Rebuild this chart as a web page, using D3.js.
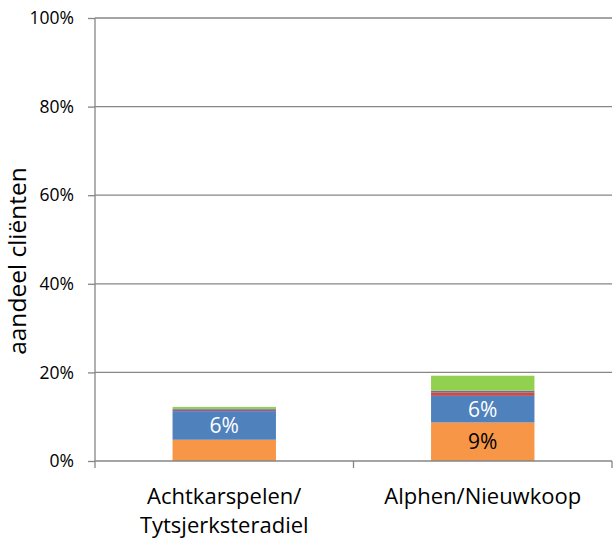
<!DOCTYPE html>
<html><head><meta charset="utf-8">
<script src="https://cdn.jsdelivr.net/npm/d3@7"></script>
<style>body{margin:0;background:#fff}svg{display:block}text{font-family:"Open Sans",sans-serif}</style>
</head><body><svg id="c" width="613" height="539"></svg>
<script>
const categories = [["Achtkarspelen/", "Tytsjerksteradiel"], ["Alphen/Nieuwkoop"]];
const seriesNames = ["oranje", "blauw", "rood", "paars", "groen"];
const oranje = [4.8, 8.7];
const blauw = [6.3, 6.0];
const rood = [0, 0.8];
const paars = [0.6, 0.35];
const groen = [0.5, 3.4];
const labels = [[null, "9%"], ["6%", "6%"], [null, null], [null, null], [null, null]];
const yTicks = [0, 20, 40, 60, 80, 100];
const colors = ["#F79646", "#4F81BD", "#C0504D", "#8064A2", "#92D050"];
const labelColors = ["#000", "#fff"];

const seriesVals = [oranje, blauw, rood, paars, groen];
const svg = d3.select("#c");
const m = {l: 95, r: 612, t: 18, b: 461};
const x = d3.scaleBand().domain(d3.range(categories.length)).range([m.l, m.r]).paddingInner(0.6).paddingOuter(0.3);
const y = d3.scaleLinear().domain([0, 100]).range([m.b, m.t]);

// gridlines
svg.append("g").selectAll("line").data(yTicks.filter(d => d > 0)).join("line")
  .attr("x1", m.l).attr("x2", m.r).attr("y1", d => y(d)).attr("y2", d => y(d))
  .attr("stroke", "#868686").attr("stroke-width", 1.3);

// y axis
const ya = svg.append("g").attr("transform", `translate(${m.l},0)`)
  .call(d3.axisLeft(y).tickValues(yTicks).tickFormat(d => d + "%").tickSize(7).tickPadding(14));
ya.select(".domain").attr("stroke", "#868686").attr("stroke-width", 1.3).attr("d", `M0,${m.t}V${m.b}`);
ya.selectAll(".tick line").attr("stroke", "#868686").attr("stroke-width", 1.3);
ya.selectAll(".tick text").attr("font-size", 17.5).attr("fill", "#000");

// stacks
const rows = categories.map((c, i) => {const o = {i}; seriesNames.forEach((s, k) => o[s] = seriesVals[k][i]); return o;});
const stack = d3.stack().keys(seriesNames)(rows);
stack.forEach((layer, k) => {
  svg.append("g").selectAll("rect").data(layer).join("rect")
    .attr("x", (d, i) => x(i)).attr("width", x.bandwidth())
    .attr("y", d => y(d[1])).attr("height", d => y(d[0]) - y(d[1]))
    .attr("fill", colors[k]);
});
// labels
stack.forEach((layer, k) => {
  layer.forEach((d, i) => {
    const t = labels[k][i];
    if (!t) return;
    svg.append("text").attr("x", x(i) + x.bandwidth() / 2).attr("y", (y(d[0]) + y(d[1])) / 2)
      .attr("dy", "0.36em").attr("text-anchor", "middle").attr("font-size", 21)
      .attr("fill", labelColors[k] || "#000").text(t);
  });
});

// x axis
const xa = svg.append("g");
xa.append("line").attr("x1", m.l).attr("x2", m.r).attr("y1", m.b).attr("y2", m.b).attr("stroke", "#868686").attr("stroke-width", 1.3);
const step = (m.r - m.l) / categories.length;
xa.selectAll(".bt").data(d3.range(categories.length + 1)).join("line")
  .attr("x1", d => m.l + d * step).attr("x2", d => m.l + d * step)
  .attr("y1", m.b).attr("y2", m.b + 7).attr("stroke", "#868686").attr("stroke-width", 1.3);
categories.forEach((c, i) => {
  const t = svg.append("text").attr("text-anchor", "middle").attr("font-size", 22).attr("fill", "#000");
  c.forEach((line, j) => t.append("tspan").attr("x", x(i) + x.bandwidth() / 2).attr("y", 504 + j * 29).text(line));
});

// y title
svg.append("text").attr("transform", "translate(26,261) rotate(-90)").attr("text-anchor", "middle")
  .attr("font-size", 24.5).attr("fill", "#000").text("aandeel cliënten");
</script></body></html>
